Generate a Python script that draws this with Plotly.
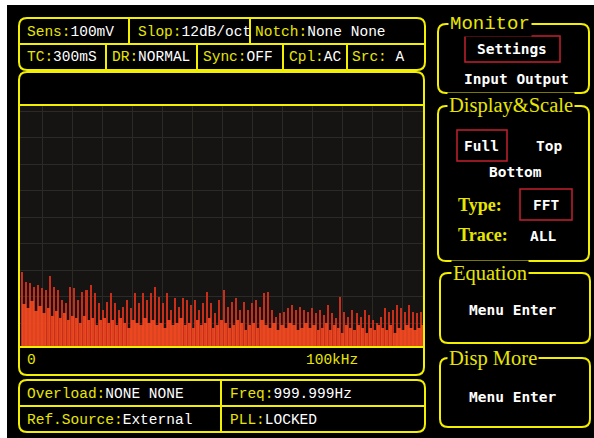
import plotly.graph_objects as go

# ---------------- data ----------------
# FFT spectrum peak levels (% of full scale), one per 1 kHz bin, 0..100 kHz
spectrum_peak = [31.1, 27.0, 26.6, 24.9, 25.7, 24.5, 23.7, 29.5, 24.9, 23.7,
                 19.5, 18.3, 24.9, 24.5, 19.5, 22.8, 23.7, 25.7, 22.4, 18.3,
                 15.4, 18.7, 22.4, 18.3, 15.4, 16.6, 19.5, 16.2, 22.4, 18.3,
                 22.4, 19.5, 22.4, 24.9, 20.7, 18.3, 22.4, 15.4, 20.3, 16.6,
                 20.3, 19.5, 17.4, 19.5, 15.4, 18.3, 22.8, 18.3, 14.1, 19.5,
                 23.7, 16.6, 18.7, 20.3, 15.4, 18.7, 15.4, 18.3, 19.5, 16.6,
                 22.4, 22.8, 15.4, 12.4, 14.1, 14.5, 16.2, 17.4, 15.4, 16.6,
                 15.4, 14.5, 16.2, 14.1, 15.4, 13.3, 17.4, 14.1, 12.0, 20.7,
                 14.5, 12.4, 15.4, 14.1, 12.4, 15.4, 13.3, 11.2, 10.0, 12.4,
                 16.2, 14.5, 15.4, 17.4, 16.2, 14.5, 17.4, 14.5, 14.1, 14.5]
# dense lower noise floor (% of full scale), offset half a bin
spectrum_floor = [18, 16, 19, 15, 17, 14, 16, 13, 15, 12,
                  14, 11, 13, 12, 10, 13, 11, 12, 9, 11,
                  12, 10, 11, 9, 12, 10, 8, 11, 10, 9,
                  12, 10, 11, 9, 10, 8, 11, 9, 10, 12,
                  9, 10, 8, 11, 9, 10, 12, 8, 9, 11,
                  10, 8, 9, 11, 10, 7, 9, 10, 8, 11,
                  9, 8, 10, 7, 9, 8, 10, 9, 7, 8,
                  10, 8, 9, 7, 8, 10, 7, 9, 8, 6,
                  9, 8, 7, 9, 8, 6, 8, 7, 9, 8,
                  7, 9, 6, 8, 7, 9, 8, 7, 8, 9]
freq_span_khz = 100
axis_labels = ["0", "100kHz"]

status_row1 = [("Sens:", "100mV"), ("Slop:", "12dB/oct"), ("Notch:", "None None")]
status_row2 = [("TC:", "300mS"), ("DR:", "NORMAL"), ("Sync:", "OFF"), ("Cpl:", "AC"), ("Src:", " A")]
bottom_row1 = [("Overload:", "NONE NONE"), ("Freq:", "999.999Hz")]
bottom_row2 = [("Ref.Source:", "External"), ("PLL:", "LOCKED")]
panel_titles = ["Monitor", "Display&Scale", "Equation", "Disp More"]

# ---------------- helpers ----------------
W, H = 594, 438
YEL = "#f2f000"
TXT_Y = "#e8e600"
RED = "#c4202c"


def X(px):
    return px / W


def Y(py):
    return 1 - py / H


def rrect(x0, y0, x1, y1, r=8, color=YEL, width=2):
    p = (f"M {X(x0 + r)} {Y(y0)} L {X(x1 - r)} {Y(y0)} Q {X(x1)} {Y(y0)} {X(x1)} {Y(y0 + r)} "
         f"L {X(x1)} {Y(y1 - r)} Q {X(x1)} {Y(y1)} {X(x1 - r)} {Y(y1)} "
         f"L {X(x0 + r)} {Y(y1)} Q {X(x0)} {Y(y1)} {X(x0)} {Y(y1 - r)} "
         f"L {X(x0)} {Y(y0 + r)} Q {X(x0)} {Y(y0)} {X(x0 + r)} {Y(y0)} Z")
    return dict(type="path", path=p, xref="paper", yref="paper",
                line=dict(color=color, width=width), layer="above")


def hline(x0, x1, y, color=YEL, width=2):
    return dict(type="line", xref="paper", yref="paper", x0=X(x0), x1=X(x1), y0=Y(y), y1=Y(y),
                line=dict(color=color, width=width), layer="above")


def vline(x, y0, y1, color=YEL, width=2):
    return dict(type="line", xref="paper", yref="paper", x0=X(x), x1=X(x), y0=Y(y0), y1=Y(y1),
                line=dict(color=color, width=width), layer="above")


def rect(x0, y0, x1, y1, color=RED, width=1.5):
    return dict(type="rect", xref="paper", yref="paper", x0=X(x0), x1=X(x1), y0=Y(y0), y1=Y(y1),
                line=dict(color=color, width=width), layer="above")


annotations = []


def text(px, py, s, size=14.5, family="Liberation Mono", color=TXT_Y, anchor="left", bg=None):
    d = dict(x=X(px), y=Y(py), xref="paper", yref="paper", text=s, showarrow=False,
             xanchor=anchor, yanchor="middle", font=dict(family=family, size=size, color=color))
    if bg:
        d["bgcolor"] = bg
        d["borderpad"] = 1
    annotations.append(d)


def pair(lbl, val):
    return f'{lbl}<span style="color:#ffffff">{val}</span>'


# ---------------- figure ----------------
freqs = [i + 0.5 for i in range(len(spectrum_peak))]
freqs_floor = [i + 1.0 for i in range(len(spectrum_floor))]

fig = go.Figure()
fig.add_trace(go.Bar(x=freqs, y=spectrum_peak, width=0.5,
                     marker=dict(color="#d2301a", line=dict(width=0)), opacity=0.95))
fig.add_trace(go.Bar(x=freqs_floor, y=spectrum_floor, width=0.85,
                     marker=dict(color="#f24a22", line=dict(width=0)), opacity=0.9,
                     hoverinfo="skip"))

shapes = []
# white margins of the photo
shapes.append(dict(type="rect", xref="paper", yref="paper", x0=0, x1=1, y0=Y(5), y1=1,
                   fillcolor="white", line=dict(width=0), layer="below"))
shapes.append(dict(type="rect", xref="paper", yref="paper", x0=0, x1=X(7), y0=0, y1=1,
                   fillcolor="white", line=dict(width=0), layer="below"))

# status box
shapes.append(rrect(19, 18, 425, 70))
shapes.append(hline(19, 425, 44))
for xv in (129, 250):
    shapes.append(vline(xv, 18, 44))
for xv in (106, 197, 283, 347):
    shapes.append(vline(xv, 44, 70))
# main display box
shapes.append(rrect(19, 72, 424, 375))
shapes.append(hline(19, 424, 105))
shapes.append(hline(19, 424, 347))
# bottom box
shapes.append(rrect(19, 380, 425, 432))
shapes.append(hline(19, 425, 406))
shapes.append(vline(221, 380, 432))
# right panels
shapes.append(rrect(438, 24, 589, 93))
shapes.append(rrect(438, 106, 589, 261))
shapes.append(rrect(440, 273, 590, 343))
shapes.append(rrect(440, 358, 590, 427))
# red selection boxes
shapes.append(rect(465, 36, 560, 62))
shapes.append(rect(457, 130, 507, 161))
shapes.append(rect(520, 189, 572, 220))

# status texts
for (lbl, val), xp in zip(status_row1, (25, 136, 253)):
    text(xp, 32, pair(lbl, val))
for (lbl, val), xp in zip(status_row2, (25, 110, 201, 287, 350)):
    text(xp, 57, pair(lbl, val))
for (lbl, val), xp in zip(bottom_row1, (25, 228)):
    text(xp, 394, pair(lbl, val))
for (lbl, val), xp in zip(bottom_row2, (25, 228)):
    text(xp, 420, pair(lbl, val))

# axis strip labels
text(25, 360, axis_labels[0])
text(332, 360, axis_labels[1], anchor="center")

# panel titles
text(448, 24, panel_titles[0], size=19, family="Liberation Mono", bg="black")
text(447, 106, panel_titles[1], size=20.5, family="Liberation Serif", bg="black")
text(451, 273, panel_titles[2], size=20.5, family="Liberation Serif", bg="black")
text(447, 358, panel_titles[3], size=20.5, family="Liberation Serif", bg="black")

WF = "DejaVu Sans Mono"
text(512, 49, "<b>Settings</b>", size=14.5, family=WF, color="white", anchor="center")
text(516, 79, "<b>Input Output</b>", size=14.5, family=WF, color="white", anchor="center")
text(481, 146, "<b>Full</b>", size=14.5, family=WF, color="white", anchor="center")
text(549, 146, "<b>Top</b>", size=14.5, family=WF, color="white", anchor="center")
text(515, 172, "<b>Bottom</b>", size=14.5, family=WF, color="white", anchor="center")
text(456, 205, "<b>Type:</b>", size=18, family="Liberation Serif", color=TXT_Y)
text(546, 205, "<b>FFT</b>", size=14.5, family=WF, color="white", anchor="center")
text(456, 235, "<b>Trace:</b>", size=18, family="Liberation Serif", color=TXT_Y)
text(543, 236, "<b>ALL</b>", size=14.5, family=WF, color="white", anchor="center")
text(513, 310, "<b>Menu Enter</b>", size=14.5, family=WF, color="white", anchor="center")
text(513, 397, "<b>Menu Enter</b>", size=14.5, family=WF, color="white", anchor="center")

fig.update_layout(
    width=W, height=H, margin=dict(l=0, r=0, t=0, b=0),
    paper_bgcolor="black", plot_bgcolor="#151412",
    showlegend=False, barmode="overlay", bargap=0,
    shapes=shapes, annotations=annotations,
    xaxis=dict(domain=[X(20), X(423)], range=[0, freq_span_khz], showticklabels=False,
               showline=False, zeroline=False, ticks="", showgrid=True,
               gridcolor="#2c2a27", gridwidth=1, tick0=5.7, dtick=7.44, fixedrange=True),
    yaxis=dict(domain=[Y(347), Y(106)], range=[0, 100], showticklabels=False,
               showline=False, zeroline=False, ticks="", showgrid=True,
               gridcolor="#2c2a27", gridwidth=1, tick0=9.8, dtick=11.0, fixedrange=True),
)

fig.write_html("out.html", config={"displayModeBar": False},
               post_script="document.body.style.margin='0';document.body.style.overflow='hidden';")
